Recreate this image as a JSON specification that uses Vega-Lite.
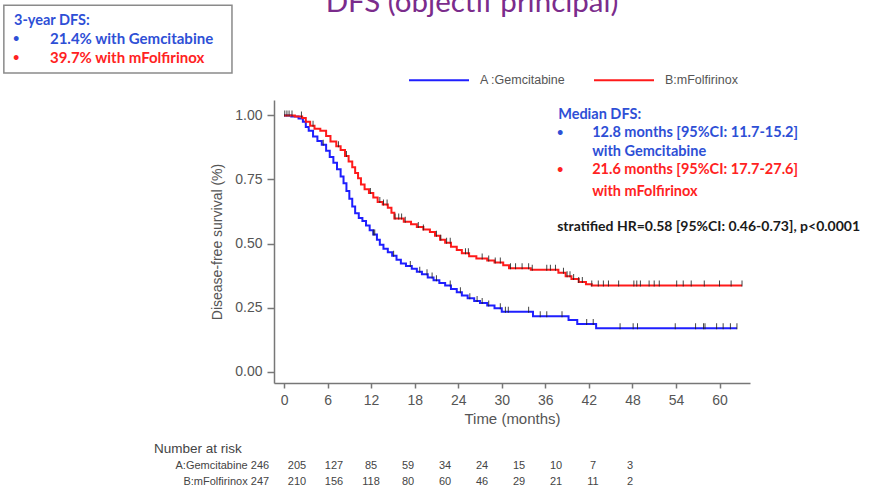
{
  "$schema": "https://vega.github.io/schema/vega-lite/v6.json",
  "width": 476,
  "height": 283,
  "autosize": {"type": "none"},
  "padding": {"left": 274, "top": 100, "right": 120, "bottom": 106},
  "background": "white",
  "config": {"view": {"stroke": null}, "font": "Liberation Sans"},
  "datasets": {
    "km": [
      {"arm": "A :Gemcitabine", "t": 0, "S": 1.0},
      {"arm": "A :Gemcitabine", "t": 1.0, "S": 0.996},
      {"arm": "A :Gemcitabine", "t": 2.0, "S": 0.988},
      {"arm": "A :Gemcitabine", "t": 2.6, "S": 0.975},
      {"arm": "A :Gemcitabine", "t": 3.0, "S": 0.955},
      {"arm": "A :Gemcitabine", "t": 3.4, "S": 0.94},
      {"arm": "A :Gemcitabine", "t": 4.0, "S": 0.918},
      {"arm": "A :Gemcitabine", "t": 4.6, "S": 0.9},
      {"arm": "A :Gemcitabine", "t": 5.2, "S": 0.885},
      {"arm": "A :Gemcitabine", "t": 5.8, "S": 0.862},
      {"arm": "A :Gemcitabine", "t": 6.3, "S": 0.838},
      {"arm": "A :Gemcitabine", "t": 6.8, "S": 0.815},
      {"arm": "A :Gemcitabine", "t": 7.3, "S": 0.79},
      {"arm": "A :Gemcitabine", "t": 7.8, "S": 0.762},
      {"arm": "A :Gemcitabine", "t": 8.2, "S": 0.735},
      {"arm": "A :Gemcitabine", "t": 8.6, "S": 0.705},
      {"arm": "A :Gemcitabine", "t": 9.0, "S": 0.675},
      {"arm": "A :Gemcitabine", "t": 9.4, "S": 0.645},
      {"arm": "A :Gemcitabine", "t": 9.8, "S": 0.618},
      {"arm": "A :Gemcitabine", "t": 10.3, "S": 0.6},
      {"arm": "A :Gemcitabine", "t": 10.8, "S": 0.588},
      {"arm": "A :Gemcitabine", "t": 11.3, "S": 0.57},
      {"arm": "A :Gemcitabine", "t": 11.8, "S": 0.552},
      {"arm": "A :Gemcitabine", "t": 12.3, "S": 0.535},
      {"arm": "A :Gemcitabine", "t": 12.8, "S": 0.515},
      {"arm": "A :Gemcitabine", "t": 13.2, "S": 0.495},
      {"arm": "A :Gemcitabine", "t": 13.7, "S": 0.48},
      {"arm": "A :Gemcitabine", "t": 14.3, "S": 0.466},
      {"arm": "A :Gemcitabine", "t": 14.9, "S": 0.452},
      {"arm": "A :Gemcitabine", "t": 15.5, "S": 0.437},
      {"arm": "A :Gemcitabine", "t": 16.1, "S": 0.422},
      {"arm": "A :Gemcitabine", "t": 16.8, "S": 0.412},
      {"arm": "A :Gemcitabine", "t": 17.6, "S": 0.402},
      {"arm": "A :Gemcitabine", "t": 18.3, "S": 0.39},
      {"arm": "A :Gemcitabine", "t": 19.0, "S": 0.38},
      {"arm": "A :Gemcitabine", "t": 19.8, "S": 0.368},
      {"arm": "A :Gemcitabine", "t": 20.6, "S": 0.357},
      {"arm": "A :Gemcitabine", "t": 21.4, "S": 0.346},
      {"arm": "A :Gemcitabine", "t": 22.2, "S": 0.336},
      {"arm": "A :Gemcitabine", "t": 23.0, "S": 0.323},
      {"arm": "A :Gemcitabine", "t": 23.8, "S": 0.31},
      {"arm": "A :Gemcitabine", "t": 24.5, "S": 0.297},
      {"arm": "A :Gemcitabine", "t": 25.3, "S": 0.287},
      {"arm": "A :Gemcitabine", "t": 26.2, "S": 0.276},
      {"arm": "A :Gemcitabine", "t": 27.0, "S": 0.268},
      {"arm": "A :Gemcitabine", "t": 28.0, "S": 0.258},
      {"arm": "A :Gemcitabine", "t": 29.0, "S": 0.248},
      {"arm": "A :Gemcitabine", "t": 30.0, "S": 0.234},
      {"arm": "A :Gemcitabine", "t": 34.3, "S": 0.216},
      {"arm": "A :Gemcitabine", "t": 39.2, "S": 0.202},
      {"arm": "A :Gemcitabine", "t": 40.4, "S": 0.186},
      {"arm": "A :Gemcitabine", "t": 43.0, "S": 0.17},
      {"arm": "A :Gemcitabine", "t": 62.4, "S": 0.17},
      {"arm": "B:mFolfirinox", "t": 0, "S": 1.0},
      {"arm": "B:mFolfirinox", "t": 1.5, "S": 0.996},
      {"arm": "B:mFolfirinox", "t": 2.5, "S": 0.99},
      {"arm": "B:mFolfirinox", "t": 3.0, "S": 0.975},
      {"arm": "B:mFolfirinox", "t": 3.6, "S": 0.96},
      {"arm": "B:mFolfirinox", "t": 4.2, "S": 0.948},
      {"arm": "B:mFolfirinox", "t": 5.0, "S": 0.94},
      {"arm": "B:mFolfirinox", "t": 5.8, "S": 0.92},
      {"arm": "B:mFolfirinox", "t": 6.4, "S": 0.898},
      {"arm": "B:mFolfirinox", "t": 7.2, "S": 0.88},
      {"arm": "B:mFolfirinox", "t": 7.8, "S": 0.865},
      {"arm": "B:mFolfirinox", "t": 8.4, "S": 0.842},
      {"arm": "B:mFolfirinox", "t": 8.9, "S": 0.82},
      {"arm": "B:mFolfirinox", "t": 9.4, "S": 0.798},
      {"arm": "B:mFolfirinox", "t": 9.8, "S": 0.775},
      {"arm": "B:mFolfirinox", "t": 10.2, "S": 0.755},
      {"arm": "B:mFolfirinox", "t": 10.6, "S": 0.73},
      {"arm": "B:mFolfirinox", "t": 11.1, "S": 0.712},
      {"arm": "B:mFolfirinox", "t": 11.7, "S": 0.697},
      {"arm": "B:mFolfirinox", "t": 12.3, "S": 0.68},
      {"arm": "B:mFolfirinox", "t": 12.9, "S": 0.662},
      {"arm": "B:mFolfirinox", "t": 13.6, "S": 0.652},
      {"arm": "B:mFolfirinox", "t": 14.3, "S": 0.64},
      {"arm": "B:mFolfirinox", "t": 14.8, "S": 0.62},
      {"arm": "B:mFolfirinox", "t": 15.2, "S": 0.598},
      {"arm": "B:mFolfirinox", "t": 16.5, "S": 0.585},
      {"arm": "B:mFolfirinox", "t": 17.5, "S": 0.575},
      {"arm": "B:mFolfirinox", "t": 18.3, "S": 0.565},
      {"arm": "B:mFolfirinox", "t": 19.2, "S": 0.555},
      {"arm": "B:mFolfirinox", "t": 20.1, "S": 0.545},
      {"arm": "B:mFolfirinox", "t": 20.8, "S": 0.53},
      {"arm": "B:mFolfirinox", "t": 21.5, "S": 0.515},
      {"arm": "B:mFolfirinox", "t": 22.2, "S": 0.503},
      {"arm": "B:mFolfirinox", "t": 23.0, "S": 0.488},
      {"arm": "B:mFolfirinox", "t": 23.8, "S": 0.475},
      {"arm": "B:mFolfirinox", "t": 24.5, "S": 0.462},
      {"arm": "B:mFolfirinox", "t": 25.5, "S": 0.45},
      {"arm": "B:mFolfirinox", "t": 26.5, "S": 0.442},
      {"arm": "B:mFolfirinox", "t": 28.0, "S": 0.434},
      {"arm": "B:mFolfirinox", "t": 29.0, "S": 0.426},
      {"arm": "B:mFolfirinox", "t": 30.2, "S": 0.415},
      {"arm": "B:mFolfirinox", "t": 31.0, "S": 0.404},
      {"arm": "B:mFolfirinox", "t": 34.0, "S": 0.398},
      {"arm": "B:mFolfirinox", "t": 37.8, "S": 0.386},
      {"arm": "B:mFolfirinox", "t": 38.8, "S": 0.372},
      {"arm": "B:mFolfirinox", "t": 39.6, "S": 0.362},
      {"arm": "B:mFolfirinox", "t": 40.6, "S": 0.35},
      {"arm": "B:mFolfirinox", "t": 41.6, "S": 0.341},
      {"arm": "B:mFolfirinox", "t": 42.4, "S": 0.336},
      {"arm": "B:mFolfirinox", "t": 63.1, "S": 0.336}
    ],
    "censor": [
      {"arm": "B", "t": 0.1, "S": 1.0}, {"arm": "B", "t": 0.4, "S": 1.0}, {"arm": "B", "t": 0.7, "S": 1.0},
      {"arm": "B", "t": 1.1, "S": 1.0}, {"arm": "B", "t": 2.4, "S": 0.996}, {"arm": "B", "t": 4.0, "S": 0.96},
      {"arm": "B", "t": 7.5, "S": 0.88}, {"arm": "B", "t": 8.6, "S": 0.842}, {"arm": "B", "t": 11.9, "S": 0.697},
      {"arm": "B", "t": 13.2, "S": 0.662}, {"arm": "B", "t": 13.7, "S": 0.652}, {"arm": "B", "t": 14.2, "S": 0.652},
      {"arm": "B", "t": 15.3, "S": 0.598}, {"arm": "B", "t": 15.8, "S": 0.598}, {"arm": "B", "t": 16.2, "S": 0.598},
      {"arm": "B", "t": 16.7, "S": 0.585}, {"arm": "B", "t": 18.5, "S": 0.565}, {"arm": "B", "t": 19.2, "S": 0.555},
      {"arm": "B", "t": 21.0, "S": 0.53}, {"arm": "B", "t": 21.6, "S": 0.515}, {"arm": "B", "t": 22.4, "S": 0.503},
      {"arm": "B", "t": 22.9, "S": 0.503}, {"arm": "B", "t": 25.0, "S": 0.462}, {"arm": "B", "t": 25.4, "S": 0.462},
      {"arm": "B", "t": 27.3, "S": 0.442}, {"arm": "B", "t": 28.2, "S": 0.434}, {"arm": "B", "t": 29.1, "S": 0.426},
      {"arm": "B", "t": 29.8, "S": 0.426}, {"arm": "B", "t": 31.2, "S": 0.404}, {"arm": "B", "t": 31.9, "S": 0.404},
      {"arm": "B", "t": 32.8, "S": 0.404}, {"arm": "B", "t": 33.7, "S": 0.404}, {"arm": "B", "t": 34.2, "S": 0.398},
      {"arm": "B", "t": 36.2, "S": 0.398}, {"arm": "B", "t": 36.7, "S": 0.398}, {"arm": "B", "t": 37.4, "S": 0.398},
      {"arm": "B", "t": 38.5, "S": 0.386}, {"arm": "B", "t": 39.0, "S": 0.372}, {"arm": "B", "t": 39.4, "S": 0.372},
      {"arm": "B", "t": 39.9, "S": 0.362}, {"arm": "B", "t": 40.6, "S": 0.35}, {"arm": "B", "t": 41.1, "S": 0.35},
      {"arm": "B", "t": 42.4, "S": 0.336}, {"arm": "B", "t": 43.3, "S": 0.336}, {"arm": "B", "t": 44.0, "S": 0.336},
      {"arm": "B", "t": 44.7, "S": 0.336}, {"arm": "B", "t": 46.1, "S": 0.336}, {"arm": "B", "t": 48.2, "S": 0.336},
      {"arm": "B", "t": 48.6, "S": 0.336}, {"arm": "B", "t": 49.1, "S": 0.336}, {"arm": "B", "t": 50.3, "S": 0.336},
      {"arm": "B", "t": 51.0, "S": 0.336}, {"arm": "B", "t": 51.7, "S": 0.336}, {"arm": "B", "t": 54.1, "S": 0.336},
      {"arm": "B", "t": 55.0, "S": 0.336}, {"arm": "B", "t": 56.1, "S": 0.336}, {"arm": "B", "t": 57.9, "S": 0.336},
      {"arm": "B", "t": 60.0, "S": 0.336}, {"arm": "B", "t": 61.6, "S": 0.336}, {"arm": "B", "t": 63.1, "S": 0.336},
      {"arm": "A", "t": 5.4, "S": 0.885}, {"arm": "A", "t": 12.3, "S": 0.535}, {"arm": "A", "t": 12.5, "S": 0.535},
      {"arm": "A", "t": 15.1, "S": 0.452}, {"arm": "A", "t": 17.4, "S": 0.412}, {"arm": "A", "t": 18.7, "S": 0.39},
      {"arm": "A", "t": 19.7, "S": 0.38}, {"arm": "A", "t": 20.4, "S": 0.368}, {"arm": "A", "t": 21.0, "S": 0.357},
      {"arm": "A", "t": 22.9, "S": 0.336}, {"arm": "A", "t": 24.3, "S": 0.31}, {"arm": "A", "t": 25.6, "S": 0.287},
      {"arm": "A", "t": 26.6, "S": 0.276}, {"arm": "A", "t": 27.3, "S": 0.268}, {"arm": "A", "t": 28.2, "S": 0.258},
      {"arm": "A", "t": 29.8, "S": 0.248}, {"arm": "A", "t": 30.5, "S": 0.234}, {"arm": "A", "t": 30.9, "S": 0.234},
      {"arm": "A", "t": 33.7, "S": 0.234}, {"arm": "A", "t": 35.3, "S": 0.216}, {"arm": "A", "t": 36.2, "S": 0.216},
      {"arm": "A", "t": 38.3, "S": 0.216}, {"arm": "A", "t": 41.7, "S": 0.186}, {"arm": "A", "t": 42.6, "S": 0.186},
      {"arm": "A", "t": 46.3, "S": 0.17}, {"arm": "A", "t": 48.1, "S": 0.17}, {"arm": "A", "t": 48.7, "S": 0.17},
      {"arm": "A", "t": 53.9, "S": 0.17}, {"arm": "A", "t": 56.7, "S": 0.17}, {"arm": "A", "t": 57.8, "S": 0.17},
      {"arm": "A", "t": 58.0, "S": 0.17}, {"arm": "A", "t": 59.6, "S": 0.17}, {"arm": "A", "t": 60.5, "S": 0.17},
      {"arm": "A", "t": 61.5, "S": 0.17}, {"arm": "A", "t": 62.4, "S": 0.17}
    ],
    "risk": [
      {"row": "A:Gemcitabine", "t": 0, "n": 246}, {"row": "A:Gemcitabine", "t": 6, "n": 205},
      {"row": "A:Gemcitabine", "t": 12, "n": 127}, {"row": "A:Gemcitabine", "t": 18, "n": 85},
      {"row": "A:Gemcitabine", "t": 24, "n": 59}, {"row": "A:Gemcitabine", "t": 30, "n": 34},
      {"row": "A:Gemcitabine", "t": 36, "n": 24}, {"row": "A:Gemcitabine", "t": 42, "n": 15},
      {"row": "A:Gemcitabine", "t": 48, "n": 10}, {"row": "A:Gemcitabine", "t": 54, "n": 7},
      {"row": "A:Gemcitabine", "t": 60, "n": 3},
      {"row": "B:mFolfirinox", "t": 0, "n": 247}, {"row": "B:mFolfirinox", "t": 6, "n": 210},
      {"row": "B:mFolfirinox", "t": 12, "n": 156}, {"row": "B:mFolfirinox", "t": 18, "n": 118},
      {"row": "B:mFolfirinox", "t": 24, "n": 80}, {"row": "B:mFolfirinox", "t": 30, "n": 60},
      {"row": "B:mFolfirinox", "t": 36, "n": 46}, {"row": "B:mFolfirinox", "t": 42, "n": 29},
      {"row": "B:mFolfirinox", "t": 48, "n": 21}, {"row": "B:mFolfirinox", "t": 54, "n": 11},
      {"row": "B:mFolfirinox", "t": 60, "n": 2}
    ]
  },
  "layer": [
    {
      "data": {"values": [{"label": "DFS (objectif principal)"}]},
      "mark": {"type": "text", "font": "Lato", "fontSize": 29.5, "color": "#7B2C8C", "align": "center", "baseline": "alphabetic"},
      "encoding": {
        "x": {"datum": 25.9, "type": "quantitative", "scale": {"domain": [-1.38, 64.2], "nice": false, "zero": false}, "axis": null},
        "y": {"datum": 1.403, "type": "quantitative", "scale": {"domain": [-0.044, 1.06], "nice": false, "zero": false}, "axis": null},
        "text": {"field": "label"}
      }
    },
    {
      "data": {"values": [{"label": "box"}]},
      "mark": {"type": "rect", "fill": "white", "stroke": "#8a8a8a", "strokeWidth": 1.5},
      "encoding": {
        "x": {"datum": -38.6, "type": "quantitative", "scale": {"domain": [-1.38, 64.2], "nice": false, "zero": false}, "axis": null},
        "x2": {"datum": -7.17},
        "y": {"datum": 1.43, "type": "quantitative", "scale": {"domain": [-0.044, 1.06], "nice": false, "zero": false}, "axis": null},
        "y2": {"datum": 1.165}
      }
    },
    {
      "data": {"name": "km"},
      "mark": {"type": "line", "interpolate": "step-after", "strokeWidth": 2},
      "encoding": {
        "x": {
          "field": "t", "type": "quantitative",
          "scale": {"domain": [-1.38, 64.2], "nice": false, "zero": false},
          "axis": {
            "orient": "bottom",
            "values": [0, 6, 12, 18, 24, 30, 36, 42, 48, 54, 60],
            "title": "Time (months)", "grid": false,
            "labelFontSize": 14, "titleFontSize": 15, "titleFontWeight": "normal",
            "labelColor": "#555555", "titleColor": "#555555",
            "domainColor": "#777777", "domainWidth": 1.5, "tickColor": "#777777", "tickWidth": 1.5,
            "tickSize": 5, "labelPadding": 5, "titlePadding": 4, "labelFlush": false
          }
        },
        "y": {
          "field": "S", "type": "quantitative",
          "scale": {"domain": [-0.044, 1.06], "nice": false, "zero": false},
          "axis": {
            "orient": "left",
            "values": [0, 0.25, 0.5, 0.75, 1], "format": ".2f",
            "title": "Disease-free survival (%)", "grid": false,
            "labelFontSize": 14, "titleFontSize": 14, "titleFontWeight": "normal",
            "labelColor": "#555555", "titleColor": "#555555",
            "domainColor": "#777777", "domainWidth": 1.5, "tickColor": "#777777", "tickWidth": 1.5,
            "tickSize": 7, "labelPadding": 5, "titlePadding": 10, "labelFlush": false
          }
        },
        "color": {
          "field": "arm", "type": "nominal",
          "scale": {"domain": ["A :Gemcitabine", "B:mFolfirinox"], "range": ["#1f1fff", "#ff1a1a"]},
          "legend": {
            "orient": "none", "legendX": 134, "legendY": -51, "direction": "horizontal",
            "title": null, "symbolType": "stroke", "symbolSize": 3600, "symbolStrokeWidth": 2,
            "labelFontSize": 12.5, "labelColor": "#555555", "labelOffset": 10, "columnPadding": 24,
            "padding": 0
          }
        },
        "order": {"field": "t", "type": "quantitative"}
      }
    },
    {
      "data": {"name": "censor"},
      "mark": {"type": "tick", "orient": "vertical", "size": 6, "thickness": 1, "color": "#222222", "opacity": 0.85, "yOffset": -2},
      "encoding": {
        "x": {"field": "t", "type": "quantitative", "scale": {"domain": [-1.38, 64.2], "nice": false, "zero": false}, "axis": null},
        "y": {"field": "S", "type": "quantitative", "scale": {"domain": [-0.044, 1.06], "nice": false, "zero": false}, "axis": null}
      }
    },
    {
      "data": {"values": [{"label": "3-year DFS:"}]},
      "mark": {"type": "text", "font": "Lato", "fontWeight": "bold", "fontSize": 14.5, "color": "#2E4FD6", "align": "left", "baseline": "middle"},
      "encoding": {"x": {"datum": -37.2, "type": "quantitative", "scale": {"domain": [-1.38, 64.2], "nice": false, "zero": false}, "axis": null}, "y": {"datum": 1.368, "type": "quantitative", "scale": {"domain": [-0.044, 1.06], "nice": false, "zero": false}, "axis": null}, "text": {"field": "label"}}
    },
    {
      "data": {"values": [{"label": "•"}]},
      "mark": {"type": "text", "font": "Lato", "fontWeight": "bold", "fontSize": 11, "color": "#2E4FD6", "align": "center", "baseline": "middle"},
      "encoding": {"x": {"datum": -36.9, "type": "quantitative", "scale": {"domain": [-1.38, 64.2], "nice": false, "zero": false}, "axis": null}, "y": {"datum": 1.298, "type": "quantitative", "scale": {"domain": [-0.044, 1.06], "nice": false, "zero": false}, "axis": null}, "text": {"field": "label"}}
    },
    {
      "data": {"values": [{"label": "21.4% with Gemcitabine"}]},
      "mark": {"type": "text", "font": "Lato", "fontWeight": "bold", "fontSize": 15, "color": "#2E4FD6", "align": "left", "baseline": "middle"},
      "encoding": {"x": {"datum": -32.25, "type": "quantitative", "scale": {"domain": [-1.38, 64.2], "nice": false, "zero": false}, "axis": null}, "y": {"datum": 1.298, "type": "quantitative", "scale": {"domain": [-0.044, 1.06], "nice": false, "zero": false}, "axis": null}, "text": {"field": "label"}}
    },
    {
      "data": {"values": [{"label": "•"}]},
      "mark": {"type": "text", "font": "Lato", "fontWeight": "bold", "fontSize": 11, "color": "#FF2222", "align": "center", "baseline": "middle"},
      "encoding": {"x": {"datum": -36.9, "type": "quantitative", "scale": {"domain": [-1.38, 64.2], "nice": false, "zero": false}, "axis": null}, "y": {"datum": 1.223, "type": "quantitative", "scale": {"domain": [-0.044, 1.06], "nice": false, "zero": false}, "axis": null}, "text": {"field": "label"}}
    },
    {
      "data": {"values": [{"label": "39.7% with mFolfirinox"}]},
      "mark": {"type": "text", "font": "Lato", "fontWeight": "bold", "fontSize": 15, "color": "#FF2222", "align": "left", "baseline": "middle"},
      "encoding": {"x": {"datum": -32.25, "type": "quantitative", "scale": {"domain": [-1.38, 64.2], "nice": false, "zero": false}, "axis": null}, "y": {"datum": 1.223, "type": "quantitative", "scale": {"domain": [-0.044, 1.06], "nice": false, "zero": false}, "axis": null}, "text": {"field": "label"}}
    },
    {
      "data": {"values": [{"label": "Median DFS:"}]},
      "mark": {"type": "text", "font": "Lato", "fontWeight": "bold", "fontSize": 14.5, "color": "#2E4FD6", "align": "left", "baseline": "middle"},
      "encoding": {"x": {"datum": 37.77, "type": "quantitative", "scale": {"domain": [-1.38, 64.2], "nice": false, "zero": false}, "axis": null}, "y": {"datum": 1.001, "type": "quantitative", "scale": {"domain": [-0.044, 1.06], "nice": false, "zero": false}, "axis": null}, "text": {"field": "label"}}
    },
    {
      "data": {"values": [{"label": "•"}]},
      "mark": {"type": "text", "font": "Lato", "fontWeight": "bold", "fontSize": 11, "color": "#2E4FD6", "align": "center", "baseline": "middle"},
      "encoding": {"x": {"datum": 38.04, "type": "quantitative", "scale": {"domain": [-1.38, 64.2], "nice": false, "zero": false}, "axis": null}, "y": {"datum": 0.931, "type": "quantitative", "scale": {"domain": [-0.044, 1.06], "nice": false, "zero": false}, "axis": null}, "text": {"field": "label"}}
    },
    {
      "data": {"values": [{"label": "12.8 months [95%CI: 11.7-15.2]"}]},
      "mark": {"type": "text", "font": "Lato", "fontWeight": "bold", "fontSize": 14.5, "color": "#2E4FD6", "align": "left", "baseline": "middle"},
      "encoding": {"x": {"datum": 42.45, "type": "quantitative", "scale": {"domain": [-1.38, 64.2], "nice": false, "zero": false}, "axis": null}, "y": {"datum": 0.931, "type": "quantitative", "scale": {"domain": [-0.044, 1.06], "nice": false, "zero": false}, "axis": null}, "text": {"field": "label"}}
    },
    {
      "data": {"values": [{"label": "with Gemcitabine"}]},
      "mark": {"type": "text", "font": "Lato", "fontWeight": "bold", "fontSize": 14.5, "color": "#2E4FD6", "align": "left", "baseline": "middle"},
      "encoding": {"x": {"datum": 42.45, "type": "quantitative", "scale": {"domain": [-1.38, 64.2], "nice": false, "zero": false}, "axis": null}, "y": {"datum": 0.857, "type": "quantitative", "scale": {"domain": [-0.044, 1.06], "nice": false, "zero": false}, "axis": null}, "text": {"field": "label"}}
    },
    {
      "data": {"values": [{"label": "•"}]},
      "mark": {"type": "text", "font": "Lato", "fontWeight": "bold", "fontSize": 11, "color": "#FF2222", "align": "center", "baseline": "middle"},
      "encoding": {"x": {"datum": 38.04, "type": "quantitative", "scale": {"domain": [-1.38, 64.2], "nice": false, "zero": false}, "axis": null}, "y": {"datum": 0.787, "type": "quantitative", "scale": {"domain": [-0.044, 1.06], "nice": false, "zero": false}, "axis": null}, "text": {"field": "label"}}
    },
    {
      "data": {"values": [{"label": "21.6 months [95%CI: 17.7-27.6]"}]},
      "mark": {"type": "text", "font": "Lato", "fontWeight": "bold", "fontSize": 14.5, "color": "#FF2222", "align": "left", "baseline": "middle"},
      "encoding": {"x": {"datum": 42.45, "type": "quantitative", "scale": {"domain": [-1.38, 64.2], "nice": false, "zero": false}, "axis": null}, "y": {"datum": 0.787, "type": "quantitative", "scale": {"domain": [-0.044, 1.06], "nice": false, "zero": false}, "axis": null}, "text": {"field": "label"}}
    },
    {
      "data": {"values": [{"label": "with mFolfirinox"}]},
      "mark": {"type": "text", "font": "Lato", "fontWeight": "bold", "fontSize": 14.5, "color": "#FF2222", "align": "left", "baseline": "middle"},
      "encoding": {"x": {"datum": 42.45, "type": "quantitative", "scale": {"domain": [-1.38, 64.2], "nice": false, "zero": false}, "axis": null}, "y": {"datum": 0.701, "type": "quantitative", "scale": {"domain": [-0.044, 1.06], "nice": false, "zero": false}, "axis": null}, "text": {"field": "label"}}
    },
    {
      "data": {"values": [{"label": "stratified HR=0.58 [95%CI: 0.46-0.73],  p<0.0001"}]},
      "mark": {"type": "text", "font": "Lato", "fontWeight": "bold", "fontSize": 14, "color": "#1a1a1a", "align": "left", "baseline": "middle"},
      "encoding": {"x": {"datum": 37.63, "type": "quantitative", "scale": {"domain": [-1.38, 64.2], "nice": false, "zero": false}, "axis": null}, "y": {"datum": 0.564, "type": "quantitative", "scale": {"domain": [-0.044, 1.06], "nice": false, "zero": false}, "axis": null}, "text": {"field": "label"}}
    },
    {
      "data": {"values": [{"label": "Number at risk"}]},
      "mark": {"type": "text", "font": "Liberation Sans", "fontSize": 13.5, "color": "#444444", "align": "left", "baseline": "middle"},
      "encoding": {"x": {"datum": -17.9, "type": "quantitative", "scale": {"domain": [-1.38, 64.2], "nice": false, "zero": false}, "axis": null}, "y": {"datum": -0.301, "type": "quantitative", "scale": {"domain": [-0.044, 1.06], "nice": false, "zero": false}, "axis": null}, "text": {"field": "label"}}
    },
    {
      "data": {"name": "risk"},
      "mark": {"type": "text", "font": "Liberation Sans", "fontSize": 11, "color": "#444444", "align": "center", "baseline": "middle"},
      "encoding": {
        "x": {"field": "t", "type": "quantitative", "scale": {"domain": [0, 60], "range": [-14, 356], "nice": false, "zero": false}, "axis": null},
        "y": {"field": "row", "type": "nominal", "scale": {"type": "point", "domain": ["A:Gemcitabine", "B:mFolfirinox"], "range": [366, 382], "padding": 0}, "axis": null},
        "text": {"field": "n", "type": "quantitative"}
      }
    },
    {
      "data": {"name": "risk"},
      "transform": [{"filter": "datum.t == 0"}],
      "mark": {"type": "text", "font": "Liberation Sans", "fontSize": 11, "color": "#444444", "align": "right", "baseline": "middle"},
      "encoding": {
        "x": {"datum": -2.0, "type": "quantitative", "scale": {"domain": [0, 60], "range": [-14, 356], "nice": false, "zero": false}, "axis": null},
        "y": {"field": "row", "type": "nominal", "scale": {"type": "point", "domain": ["A:Gemcitabine", "B:mFolfirinox"], "range": [366, 382], "padding": 0}, "axis": null},
        "text": {"field": "row", "type": "nominal"}
      }
    }
  ],
  "resolve": {"scale": {"x": "independent", "y": "independent"}}
}
